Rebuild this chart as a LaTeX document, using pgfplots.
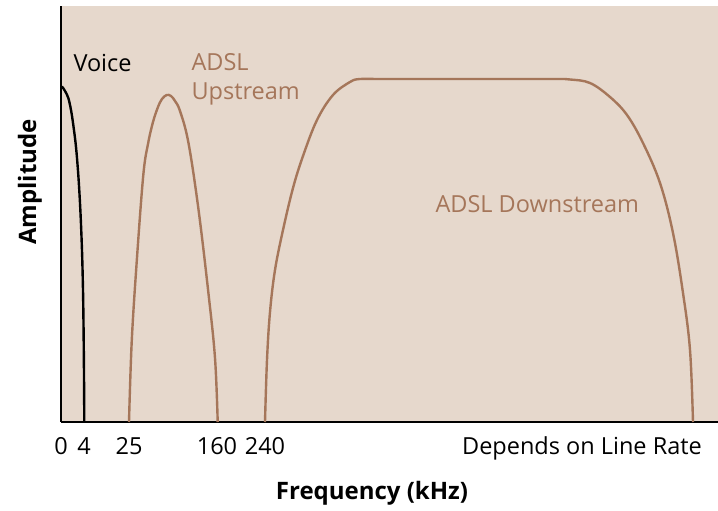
\documentclass[border=0pt]{standalone}
\usepackage{pgfplots}
\pgfplotsset{compat=1.18}
\usepackage{fontspec}
\setmainfont{Open Sans}
\definecolor{bg}{RGB}{230,216,204}
\definecolor{adsl}{RGB}{165,118,90}
\begin{document}
\begin{tikzpicture}
\begin{axis}[
  at={(0pt,0pt)}, anchor=south west,
  width=657pt, height=416pt, scale only axis,
  xmin=0, xmax=657, ymin=0, ymax=416,
  axis x line=bottom, axis y line=left,
  axis line style={-, line width=2.6pt, black},
  axis background/.style={fill=bg},
  xtick={0,23,68,156,204,521},
  xticklabels={0,4,25,160,240,Depends on Line Rate},
  ytick=\empty,
  major tick length=0pt,
  xticklabel style={font=\fontsize{23.5}{28}\selectfont, anchor=base, yshift=-33pt},
  /pgf/number format/assume math mode=true,
  clip=false,
]
\addplot[black, line width=2.4pt, smooth, tension=0.6] coordinates {
 (0,335) (1.3,335) (4,331) (7.3,324) (10,312) (12.3,297) (15,275) (17.3,247) (19.2,215) (20.7,180) (21.6,150) (22.3,114) (22.9,60) (23.3,0)};
\addplot[adsl, line width=2.4pt, smooth, tension=0.6] coordinates {
 (68,0) (70.7,80) (75.7,160) (82.3,247) (87,278) (92,300) (97,315) (101,323) (105.7,327) (110,326) (114,321) (119,311) (127.3,280) (137.3,214) (147.3,130) (154,64) (156.7,0)};
\addplot[adsl, line width=2.4pt, smooth, tension=0.6] coordinates {
 (204,0) (206,62) (209,110) (214,152) (222,192) (232,234) (242,266) (256,302) (272,327) (289,340) (299,343) (320,343) (400,343) (490,343) (509,342.5) (529,339) (549,325) (566,307) (582,279) (599,239) (612,189) (622,129) (629,72) (632,0)};
\node[anchor=base west, font=\fontsize{23.5}{28}\selectfont] at (axis cs:9,350) {Voice};
\node[anchor=base west, font=\fontsize{23.5}{28}\selectfont, text=adsl] at (axis cs:127,351) {ADSL};
\node[anchor=base west, font=\fontsize{23.5}{28}\selectfont, text=adsl] at (axis cs:127,322) {Upstream};
\node[anchor=base west, font=\fontsize{23.5}{28}\selectfont, text=adsl] at (axis cs:371,209) {ADSL Downstream};
\node[rotate=90, font=\bfseries\fontsize{24}{28}\selectfont] at (axis cs:-31,240) {Amplitude};
\node[anchor=base, font=\bfseries\fontsize{24}{28}\selectfont] at (axis cs:311,-78) {Frequency (kHz)};
\end{axis}
\pgfresetboundingbox
\path (-61pt,-89pt) rectangle (657pt,422pt);
\end{tikzpicture}
\end{document}
